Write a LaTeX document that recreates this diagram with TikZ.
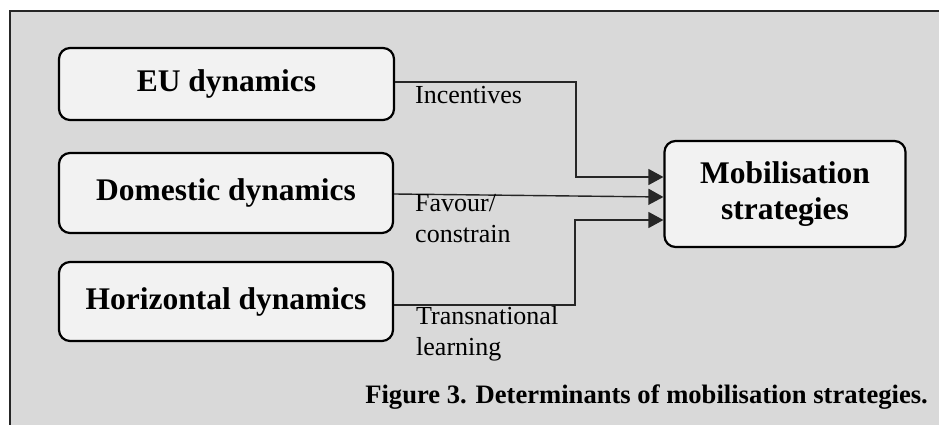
\documentclass[tikz,border=0pt]{standalone}
\usepackage{fontspec}
\setmainfont{Liberation Serif}
\usetikzlibrary{arrows.meta}
\definecolor{panel}{HTML}{D9D9D9}
\definecolor{boxfill}{HTML}{F2F2F2}
\definecolor{frameline}{HTML}{262626}
\begin{document}
\begin{tikzpicture}[x=1pt,y=-1pt,
  stage/.style={draw=black, line width=2.2pt, fill=boxfill, rounded corners=11pt,
    inner sep=0pt, align=center, font=\fontsize{31.5}{36}\selectfont\bfseries},
  link/.style={draw=black!85, line width=1.4pt, -{Triangle[length=15pt,width=16pt]}},
  lab/.style={inner sep=0pt, align=left, anchor=base west,
    font=\fontsize{26}{31}\selectfont},
  caption/.style={inner sep=0pt, anchor=base east,
    font=\fontsize{26.6}{31}\selectfont\bfseries}
]
\useasboundingbox (0,0) rectangle (939,425);

% grey panel with its top and left rule
\fill[panel] (10,11) rectangle (939,425);
\draw[frameline, line width=2pt] (10,425) -- (10,11) -- (939,11);

% determinant boxes
\node[stage, minimum width=335pt, minimum height=72pt] (eu)  at (226.5,84)  {EU dynamics};
\node[stage, minimum width=334pt, minimum height=80pt] (dom) at (226,193)   {Domestic dynamics};
\node[stage, minimum width=334pt, minimum height=79pt] (hor) at (226,301.5) {Horizontal dynamics};

% outcome box
\node[stage, minimum width=241pt, minimum height=106pt] (mob) at (785,194) {Mobilisation\\strategies};

% connectors
\draw[link] ([yshift=2pt]eu.east) -- ++(181,0) |- ([yshift=17pt]mob.west);
\draw[link] ([yshift=-1pt]dom.east) -- ([yshift=-3pt]mob.west);
\draw[link] ([yshift=-3.5pt]hor.east) -- ++(181,0) |- ([yshift=-26pt]mob.west);

% connector labels (base anchor sits on the last line)
\node[lab] (l1) at (415,103) {Incentives};
\node[lab] (l2) at (415,242) {Favour/\\constrain};
\node[lab] (l3) at (416,355) {Transnational\\learning};

% caption
\node[caption] (cap) at (928,403) {Figure 3. Determinants of mobilisation strategies.};
\end{tikzpicture}
\end{document}
